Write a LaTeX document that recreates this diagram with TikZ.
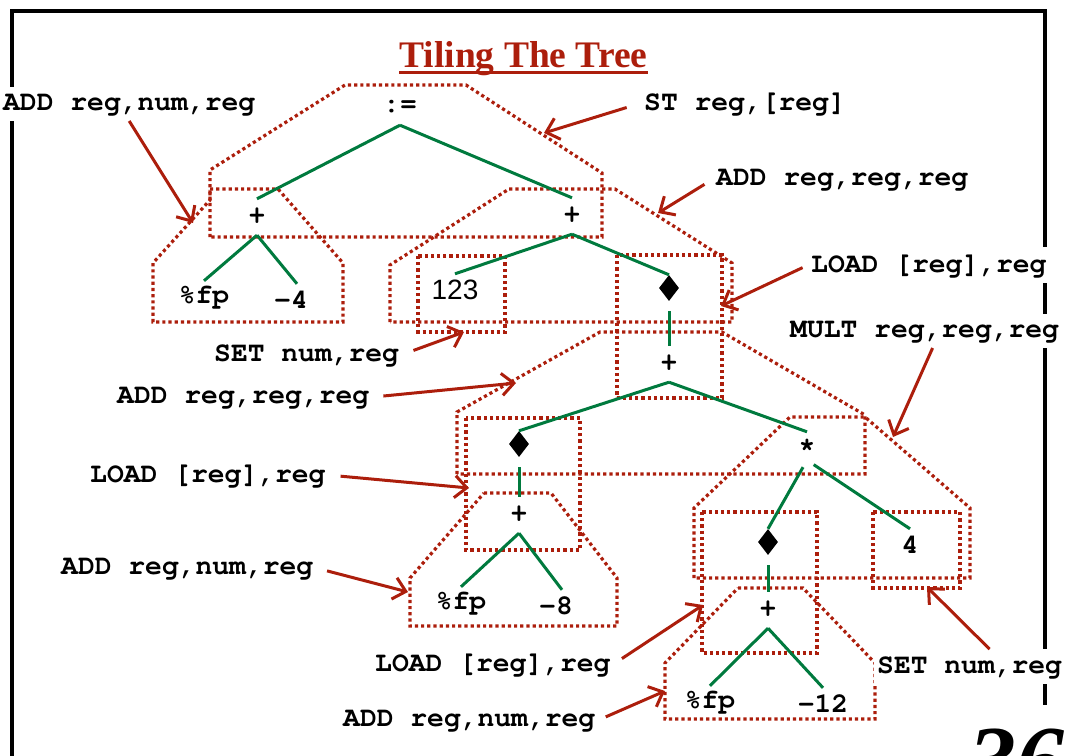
\documentclass[tikz,border=0pt]{standalone}
\usepackage[T1]{fontenc}
\usepackage{fontspec}
\usetikzlibrary{arrows.meta,shapes.geometric}
\newfontfamily\numfont{Liberation Sans}
\newfontfamily\headfont{Liberation Serif}
% bold Courier for the code text
\newcommand\courierbold{\fontencoding{T1}\fontfamily{pcr}\fontseries{b}\fontshape{n}\fontsize{28}{30}\selectfont}
\definecolor{tilered}{RGB}{172,30,12}
\definecolor{treegreen}{RGB}{0,122,62}

\begin{document}
\begin{tikzpicture}[x=1pt,y=-1pt,
  frame/.style={line width=4.5pt},
  tile/.style={draw=tilered, line width=3.2pt, dash pattern=on 3.2pt off 3pt},
  edge/.style={draw=treegreen, line width=3pt},
  pointer/.style={draw=tilered, line width=3pt, -{Straight Barb[length=12pt,width=22pt]}},
  instr/.style={fill=white, inner xsep=3pt, inner ysep=7pt, anchor=base west,
    font=\courierbold},
  op/.style={inner sep=0pt, minimum height=36pt, font=\courierbold},
  leaf/.style={inner sep=0pt, minimum height=32pt, font=\courierbold},
  deref/.style={diamond, fill=black, inner sep=0pt, minimum width=20pt, minimum height=26pt},
]
\useasboundingbox (0,0) rectangle (1065,755);

% slide frame
\draw[frame] (12,760) -- (12,11) -- (1045,11) -- (1045,705);

% title
\node[inner sep=0pt, anchor=base, text=tilered,
  font=\headfont\bfseries\fontsize{37.5}{40}\selectfont] (title) at (523.5,67) {Tiling The Tree};
\draw[tilered, line width=3pt] ([yshift=-5pt]title.base west) -- ([yshift=-5pt]title.base east);

% page number
\node[inner sep=0pt, anchor=north west,
  font=\headfont\bfseries\itshape\fontsize{96}{100}\selectfont] (pagenum) at (968,729) {36};

% tiles
\draw[tile] (210,237) -- (210,170) -- (345,85) -- (466,85) -- (602,173) -- (602,237) -- cycle;
\draw[tile] (210,189) -- (278,189) -- (343,263) -- (343,322) -- (153,322) -- (153,263) -- (210,200) -- cycle;
\draw[tile] (390,322) -- (390,265) -- (509,189) -- (615,189) -- (732,263) -- (732,322) -- cycle;
\draw[tile] (418,256) rectangle (505,332);
\draw[tile] (617,255) rectangle (722,398);
\draw[tile] (457,474) -- (457,412) -- (600,332) -- (722,332) -- (865,415) -- (865,474) -- cycle;
\draw[tile] (466,418) rectangle (580,550);
\draw[tile] (484,493) -- (551,493) -- (617,578) -- (617,626) -- (410,626) -- (410,578) -- cycle;
\draw[tile] (694,578) -- (694,508) -- (790,417) -- (865,417) -- (970,508) -- (970,578) -- cycle;
\draw[tile] (702,512) rectangle (817,653);
\draw[tile] (873,512) rectangle (960,588);
\draw[tile] (738,588) -- (803,588) -- (875,663) -- (875,719) -- (665,719) -- (665,663) -- cycle;

% expression tree
\node[op] (asg) at (400,107) {:=};
\node[op] (p1) at (257,217) {+};
\node[op] (p2) at (572,216) {+};
\node[leaf] (fp1) at (204,297) {\%fp};
\node[leaf] (n4) at (291,300) {-4};
\node[leaf, font=\numfont\fontsize{28}{30}\selectfont] (c123) at (455,290) {123};
\node[deref] (d1) at (669,288) {};
\node[op] (p3) at (669,364) {+};
\node[deref] (d2) at (519,444) {};
\node[op, minimum height=28pt] (mul) at (807,446) {*};
\node[op] (p4) at (519,515) {+};
\node[leaf] (fp2) at (461,603) {\%fp};
\node[leaf] (n8) at (556,606) {-8};
\node[deref] (d3) at (768,542) {};
\node[leaf] (n4b) at (910,545) {4};
\node[op] (p5) at (768,610) {+};
\node[leaf] (fp3) at (710,702) {\%fp};
\node[leaf] (n12) at (823,704) {-12};

\draw[edge] (asg.south) -- (p1.north);
\draw[edge] (asg.south) -- (p2.north);
\draw[edge] (p1.south) -- (fp1.north);
\draw[edge] (p1.south) -- ([xshift=6pt]n4.north);
\draw[edge] (p2.south) -- (c123.north);
\draw[edge] (p2.south) -- (d1.north);
\draw[edge, shorten <=10pt] (d1.south) -- (p3.north);
\draw[edge] (p3.south) -- (d2.north);
\draw[edge] (p3.south) -- (mul.north);
\draw[edge, shorten <=10pt] (d2.south) -- (p4.north);
\draw[edge] (p4.south) -- (fp2.north);
\draw[edge] (p4.south) -- ([xshift=6pt]n8.north);
\draw[edge, shorten <=8pt] (mul.south) -- (d3.north);
\draw[edge, shorten <=8pt] (mul.south) -- (n4b.north);
\draw[edge, shorten <=10pt] (d3.south) -- (p5.north);
\draw[edge] (p5.south) -- (fp3.north);
\draw[edge] (p5.south) -- (n12.north);

% instruction labels
\node[instr] (l1) at (0,110) {ADD reg,num,reg};
\node[instr] (l2) at (641,110) {ST reg,[reg]};
\node[instr] (l3) at (713,185) {ADD reg,reg,reg};
\node[instr] (l4) at (808,272) {LOAD [reg],reg};
\node[instr] (l5) at (787,337) {MULT reg,reg,reg};
\node[instr] (l6) at (211,361) {SET num,reg};
\node[instr] (l7) at (114,403) {ADD reg,reg,reg};
\node[instr] (l8) at (87,482) {LOAD [reg],reg};
\node[instr] (l9) at (58,574) {ADD reg,num,reg};
\node[instr] (l10) at (372,671) {LOAD [reg],reg};
\node[instr] (l11) at (340,726) {ADD reg,num,reg};
\node[instr] (l12) at (874,673) {SET num,reg};

% arrow targets on the tile outlines
\coordinate (t1) at (193,223);
\coordinate (t2) at (544,133);
\coordinate (t3) at (658,213);
\coordinate (t4) at (721,306);
\coordinate (t5) at (893,437);
\coordinate (t6) at (464,332);
\coordinate (t7) at (516,383);
\coordinate (t8) at (469,488);
\coordinate (t9) at (408,592);
\coordinate (t10) at (703,605);
\coordinate (t11) at (665,691);
\coordinate (t12) at (927,587);

\draw[pointer] (l1.south) -- (t1);
\draw[pointer, shorten <=15pt] (l2.west) -- (t2);
\draw[pointer, shorten <=10pt] (l3.west) -- (t3);
\draw[pointer, shorten <=6pt] (l4.west) -- (t4);
\draw[pointer] ([xshift=8pt]l5.south) -- (t5);
\draw[pointer, shorten <=12pt] (l6.east) -- (t6);
\draw[pointer, shorten <=11pt] (l7.east) -- (t7);
\draw[pointer, shorten <=12pt] (l8.east) -- (t8);
\draw[pointer, shorten <=11pt] (l9.east) -- (t9);
\draw[pointer, shorten <=10pt] (l10.east) -- (t10);
\draw[pointer, shorten <=8pt] (l11.east) -- (t11);
\draw[pointer] ([xshift=20pt]l12.north) -- (t12);
\end{tikzpicture}
\end{document}
